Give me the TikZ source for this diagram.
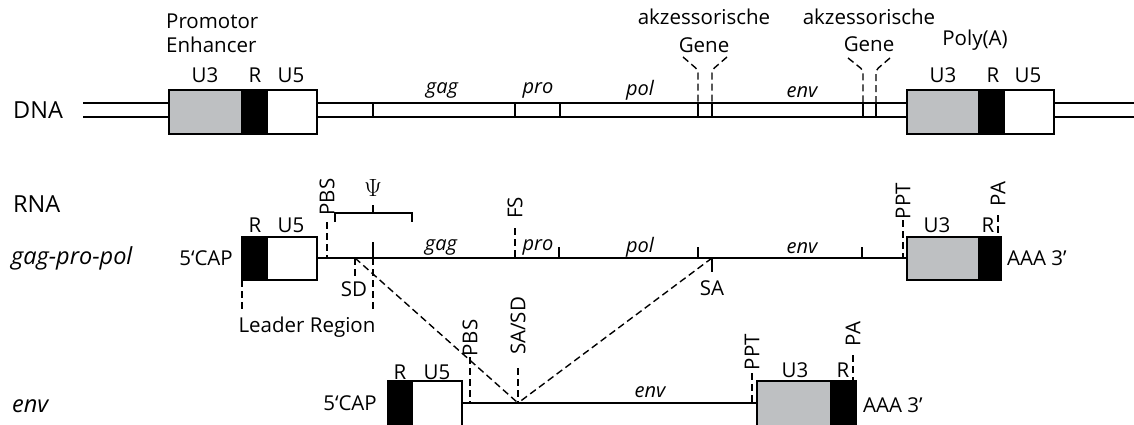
\documentclass[tikz,border=0pt]{standalone}
\usepackage{fontspec}
\setmainfont{Open Sans}
\definecolor{boxgray}{RGB}{190,192,194}
\begin{document}
\begin{tikzpicture}[x=1pt,y=-1pt,
  lbl/.style={inner sep=0pt, font=\fontsize{20.5}{22}\selectfont},
  biglbl/.style={inner sep=0pt, font=\fontsize{23.5}{25}\selectfont},
  bigilbl/.style={inner sep=0pt, font=\fontsize{23.5}{25}\selectfont\itshape},
  ilbl/.style={inner sep=0pt, font=\fontsize{20}{22}\selectfont\itshape},
  rlbl/.style={lbl, rotate=90},
  boxline/.style={draw=black, line width=1.8pt},
  dsh/.style={dash pattern=on 7pt off 4pt, line width=1.4pt},
  ln/.style={line width=1.5pt},
  tick/.style={line width=1.5pt},
  brace/.style={line width=2.8pt}]
\useasboundingbox (0,0) rectangle (1134,425);
\clip (0,0) rectangle (1134,425);

% ================= DNA =================
\node[biglbl, anchor=west] (dnalbl) at (13,110) {DNA};
\node[lbl, anchor=west] (prom) at (166,21) {Promotor};
\node[lbl, anchor=west] (enh) at (166,45) {Enhancer};

% double strand
\foreach \yy in {103,117}{
  \draw[ln] (83,\yy) -- (169,\yy);
  \draw[ln] (317,\yy) -- (907,\yy);
  \draw[ln] (1054,\yy) -- (1134,\yy);
}
% left LTR
\fill[boxgray] (169,90) rectangle (241,134);
\fill[black] (241,90) rectangle (268,134);
\draw[boxline] (169,90) rectangle (317,134);
\node[lbl] (u3a) at (205,75) {U3};
\node[lbl] (ra) at (255,75) {R};
\node[lbl] (u5a) at (291,75) {U5};
% right LTR
\fill[boxgray] (907,90) rectangle (978,134);
\fill[black] (978,90) rectangle (1005,134);
\draw[boxline] (907,90) rectangle (1054,134);
\node[lbl] (u3b) at (943,75) {U3};
\node[lbl] (rb) at (993,75) {R};
\node[lbl] (u5b) at (1028,75) {U5};
\node[lbl] (polya) at (975,40) {Poly(A)};

% gene boundaries
\foreach \xx in {373,515,560,698,712,863,876}{
  \draw[tick] (\xx,103) -- (\xx,117);
}
\node[ilbl] (gagd) at (442,90) {gag};
\node[ilbl] (prod) at (538,90) {pro};
\node[ilbl] (pold) at (640,90) {pol};
\node[ilbl] (envd) at (802,92) {env};

% accessory genes
\node[lbl] (akz1) at (704,17) {akzessorische};
\node[lbl] (gene1) at (704,45) {Gene};
\node[lbl] (akz2) at (869,17) {akzessorische};
\node[lbl] (gene2) at (869,44) {Gene};
\draw[dsh, rounded corners=3pt] (683,57) -- (698,70) -- (698,103);
\draw[dsh, rounded corners=3pt] (727,57) -- (712,70) -- (712,103);
\draw[dsh, rounded corners=3pt] (848,58) -- (863,70) -- (863,103);
\draw[dsh, rounded corners=3pt] (890,58) -- (876,70) -- (876,103);

% ================= RNA gag-pro-pol =================
\node[biglbl, anchor=west] (rnalbl) at (13,204) {RNA};
\node[bigilbl, anchor=west] (gpp) at (11,258) {gag-pro-pol};
\node[lbl, anchor=east] (cap1) at (233,258) {5‘CAP};

\draw[ln] (317,258) -- (907,258);
\fill[black] (242,237) rectangle (268,280);
\draw[boxline] (242,237) rectangle (317,280);
\node[lbl] (r1) at (255,225) {R};
\node[lbl] (u51) at (291,225) {U5};

% PBS
\draw[dsh] (327,222) -- (327,258);
\node[rlbl] (pbs1) at (327,197) {PBS};
% Psi brace
\draw[brace] (335,222) -- (335,213) -- (412,213) -- (412,222);
\draw[brace] (373,213) -- (373,205);
\node[inner sep=0pt, font=\fontsize{24}{26}\selectfont] (psi) at (373,188) {$\Psi$};
% SD and leader region
\draw[tick] (373,242) -- (373,258);
\draw[dsh] (373,258) -- (373,312);
\draw[dsh] (355,258) -- (355,278);
\node[lbl] (sd) at (354,289) {SD};
\draw[dsh] (242,280) -- (242,312);
\node[lbl] (leader) at (307,327) {Leader Region};

\node[ilbl] (gag1) at (441,247) {gag};
\draw[dsh] (515,228) -- (515,258);
\node[rlbl] (fs) at (515,208) {FS};
\node[ilbl] (pro1) at (538,247) {pro};
\draw[tick] (559,247) -- (559,258);
\node[ilbl] (pol1) at (640,247) {pol};
\draw[tick] (698,247) -- (698,258);
\draw[tick] (712,258) -- (712,272);
\node[lbl] (sa) at (712,288) {SA};
\node[ilbl] (env1) at (802,248) {env};
\draw[tick] (862,247) -- (862,258);

\draw[dsh] (903,220) -- (903,258);
\node[rlbl] (ppt1) at (903,201) {PPT};
\fill[boxgray] (907,237) rectangle (978,280);
\fill[black] (978,237) rectangle (1001,280);
\draw[boxline] (907,237) rectangle (1001,280);
\node[lbl] (u32) at (937,225) {U3};
\node[lbl] (r2) at (988,225) {R};
\draw[dsh] (998,215) -- (998,237);
\node[rlbl] (pa1) at (998,194) {PA};
\node[lbl, anchor=west] (aaa1) at (1007,258) {AAA 3’};

% splice connectors
\coordinate (sdpt) at (355,258);
\coordinate (sapt) at (712,258);
\coordinate (sasd) at (518,403);
\draw[dsh] (sdpt) -- (sasd);
\draw[dsh] (sapt) -- (sasd);

% ================= env mRNA =================
\node[bigilbl, anchor=west] (envlbl) at (12,406) {env};
\node[lbl, anchor=east] (cap2) at (377,403) {5‘CAP};
\draw[ln] (462,403) -- (757,403);
\fill[black] (388,381) rectangle (413,430);
\draw[boxline] (388,381) rectangle (462,430);
\node[lbl] (r3) at (400,372) {R};
\node[lbl] (u53) at (437,372) {U5};
\draw[dsh] (470,357) -- (470,403);
\node[rlbl] (pbs2) at (470,338) {PBS};
\draw[dsh] (518,368) -- (518,403);
\node[rlbl] (sasdl) at (518,326) {SA/SD};
\node[ilbl] (env2) at (650,392) {env};
\draw[dsh] (752,373) -- (752,403);
\node[rlbl] (ppt2) at (752,352) {PPT};
\fill[boxgray] (757,381) rectangle (830,430);
\fill[black] (830,381) rectangle (856,430);
\draw[boxline] (757,381) rectangle (856,430);
\node[lbl] (u33) at (795,370) {U3};
\node[lbl] (r33) at (843,370) {R};
\draw[dsh] (853,355) -- (853,381);
\node[rlbl] (pa2) at (853,334) {PA};
\node[lbl, anchor=west] (aaa2) at (863,405) {AAA 3’};
\end{tikzpicture}
\end{document}
